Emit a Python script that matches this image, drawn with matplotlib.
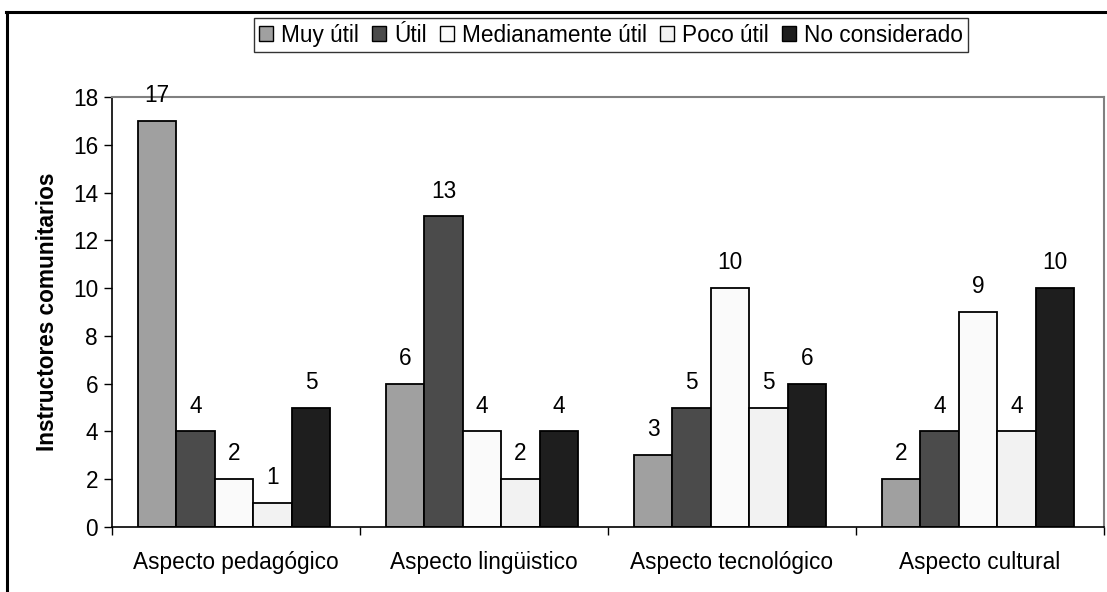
import matplotlib
matplotlib.use("Agg")
import matplotlib.pyplot as plt
from matplotlib.lines import Line2D
import numpy as np

plt.rcParams['font.family'] = ['Liberation Sans', 'DejaVu Sans']

categories = ["Aspecto pedagógico", "Aspecto lingüistico", "Aspecto tecnológico", "Aspecto cultural"]
series_names = ["Muy útil", "Útil", "Medianamente útil", "Poco útil", "No considerado"]
muy_util = [17, 6, 3, 2]
util = [4, 13, 5, 4]
medianamente_util = [2, 4, 10, 9]
poco_util = [1, 2, 5, 4]
no_considerado = [5, 4, 6, 10]
series_values = [muy_util, util, medianamente_util, poco_util, no_considerado]
colors = ["#A0A0A0", "#4B4B4B", "#FAFAFA", "#F2F2F2", "#1E1E1E"]
y_ticks = list(range(0, 19, 2))

FS = 16.3

fig = plt.figure(figsize=(11.07, 5.92), dpi=100)
ax = fig.add_axes([112/1107, 1-527/592, (1104-112)/1107, (527-97)/592])

x = np.arange(len(categories))
w = 0.155
for i, (name, vals, col) in enumerate(zip(series_names, series_values, colors)):
    pos = x + (i - 2) * w - 0.008
    bars = ax.bar(pos, vals, width=w, color=col, edgecolor="black", linewidth=1.3, label=name)
    for b, v in zip(bars, vals):
        ax.annotate(str(v), (b.get_x() + b.get_width()/2, v), xytext=(0, 10),
                    textcoords="offset points", ha="center", va="bottom", fontsize=FS)

ax.set_ylim(0, 18)
ax.set_yticks(y_ticks)
ax.set_xlim(-0.5, 3.5)
ax.set_xticks(np.arange(-0.5, 4.0, 1.0))
ax.set_xticklabels([])
ax.set_xticks(x, minor=True)
ax.set_xticklabels(categories, minor=True, fontsize=FS)
ax.tick_params(axis="x", which="minor", length=0, pad=17)
ax.tick_params(axis="x", which="major", length=6, width=1, direction="out")
ax.tick_params(axis="y", length=6, width=1, direction="out", labelsize=FS, pad=4)

for s in ["top", "right"]:
    ax.spines[s].set_color("#808080")
    ax.spines[s].set_linewidth(1.5)
for s in ["left", "bottom"]:
    ax.spines[s].set_color("black")
    ax.spines[s].set_linewidth(1.2)

ax.set_ylabel("Instructores comunitarios", fontsize=FS, fontweight="bold", labelpad=10)

leg = ax.legend(loc="center", bbox_to_anchor=(0.503, 1 + (97-35)/430), ncol=5, fontsize=FS,
                frameon=True, fancybox=False, handlelength=0.6, handleheight=0.6,
                handletextpad=0.35, columnspacing=0.6, borderpad=0.25, borderaxespad=0)
leg.get_frame().set_edgecolor("black")
leg.get_frame().set_linewidth(1.0)
for h in leg.legend_handles:
    h.set_linewidth(1.0)

# outer frame
fig.add_artist(Line2D([6.5/1107, 6.5/1107], [1-11.5/592, 0], transform=fig.transFigure, color="black", lw=2.2))
fig.add_artist(Line2D([6/1107, 1], [1-11.5/592, 1-11.5/592], transform=fig.transFigure, color="black", lw=2.2))

fig.savefig("out.png", dpi=100)
